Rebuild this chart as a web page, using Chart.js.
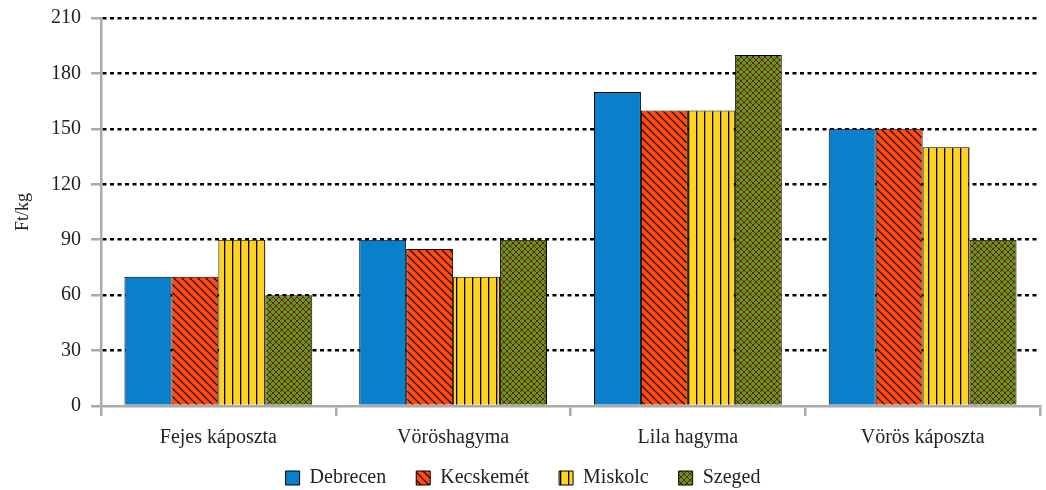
<!DOCTYPE html>
<html>
<head>
<meta charset="utf-8">
<script src="https://cdn.jsdelivr.net/npm/chart.js@4"></script>
<style>
  html, body { margin: 0; padding: 0; background: #fff; }
  #wrap { width: 1046px; height: 490px; }
</style>
</head>
<body>
<div id="wrap"><canvas id="chart" width="1046" height="490"></canvas></div>
<script>
const categories = ['Fejes káposzta', 'Vöröshagyma', 'Lila hagyma', 'Vörös káposzta'];
const cities = ['Debrecen', 'Kecskemét', 'Miskolc', 'Szeged'];
const debrecen = [70, 90, 170, 150];
const kecskemet = [70, 85, 160, 150];
const miskolc = [90, 70, 160, 140];
const szeged = [60, 90, 190, 90];
const yTicks = [0, 30, 60, 90, 120, 150, 180, 210];

// minták a hasábokhoz
function makePattern(size, bg, draw) {
    const c = document.createElement('canvas');
    c.width = size;
    c.height = size;
    const g = c.getContext('2d');
    g.fillStyle = bg;
    g.fillRect(0, 0, size, size);
    draw(g, size);
    return g.createPattern(c, 'repeat');
}

const ctx = document.getElementById('chart').getContext('2d');

const diag = makePattern(8, '#FF4A10', (g, s) => {
    g.strokeStyle = '#000';
    g.lineWidth = 1.2;
    g.beginPath();
    g.moveTo(0, 0); g.lineTo(s, s);
    g.moveTo(-s / 2, s / 2); g.lineTo(s / 2, s * 1.5);
    g.moveTo(s / 2, -s / 2); g.lineTo(s * 1.5, s / 2);
    g.stroke();
});

const vert = makePattern(8, '#FFD320', (g, s) => {
    g.fillStyle = '#000';
    g.fillRect(0, 0, 1.3, s);
});

const cross = makePattern(6, '#5B9B1A', (g, s) => {
    g.strokeStyle = '#7A1410';
    g.lineWidth = 1;
    g.beginPath();
    g.moveTo(0, 0); g.lineTo(s, s);
    g.moveTo(s, 0); g.lineTo(0, s);
    g.moveTo(-s / 2, s / 2); g.lineTo(s / 2, s * 1.5);
    g.moveTo(s / 2, -s / 2); g.lineTo(s * 1.5, s / 2);
    g.moveTo(s / 2, -s / 2); g.lineTo(-s / 2, s / 2);
    g.moveTo(s * 1.5, s / 2); g.lineTo(s / 2, s * 1.5);
    g.stroke();
});

const fills = ['#0A7FCC', diag, vert, cross];
const series = [debrecen, kecskemet, miskolc, szeged];

const serif = "'Liberation Serif', 'DejaVu Serif', serif";

// a jelmagyarázat feljebb tolása (a nagy vízszintes köz miatt magas lenne)
const legendShift = {
    id: 'legendShift',
    afterLayout(chart) {
        const l = chart.legend;
        if (!l) return;
        l.top -= 18;
        l.bottom -= 18;
    }
};

new Chart(ctx, {
    type: 'bar',
    data: {
        labels: categories,
        datasets: cities.map((name, i) => ({
            label: name,
            data: series[i],
            backgroundColor: fills[i],
            borderColor: '#000',
            borderWidth: 1,
            categoryPercentage: 0.8,
            barPercentage: 1
        }))
    },
    options: {
        responsive: false,
        animation: false,
        layout: { padding: { left: 6, right: 6, top: 7, bottom: -26 } },
        plugins: {
            tooltip: { enabled: false },
            legend: {
                position: 'bottom',
                labels: {
                    color: '#222',
                    font: { family: serif, size: 20 },
                    boxWidth: 14,
                    boxHeight: 14,
                    padding: 30
                }
            }
        },
        scales: {
            x: {
                grid: {
                    drawOnChartArea: false,
                    drawTicks: true,
                    tickLength: 10,
                    tickColor: '#aaa',
                    lineWidth: 2.5,
                    offset: true
                },
                border: { color: '#aaa', width: 2.5 },
                ticks: {
                    color: '#222',
                    font: { family: serif, size: 20 },
                    padding: 10
                },
                afterFit: s => { s.height = 50; }
            },
            y: {
                min: 0,
                max: 210,
                afterBuildTicks: s => { s.ticks = yTicks.map(v => ({ value: v })); },
                grid: {
                    color: c => c.tick && c.tick.value === 0 ? 'rgba(0,0,0,0)' : '#000',
                    lineWidth: 2.5,
                    drawTicks: true,
                    tickLength: 10,
                    tickColor: '#aaa',
                    tickWidth: 2.5,
                    tickBorderDash: [1, 0]
                },
                border: { color: '#aaa', width: 2.5, dash: [4, 3.5] },
                ticks: {
                    color: '#222',
                    font: { family: serif, size: 20, lineHeight: 0.8 },
                    padding: 10
                },
                title: {
                    display: true,
                    text: 'Ft/kg',
                    color: '#222',
                    font: { family: serif, size: 18 },
                    padding: { top: 6, bottom: 0 }
                },
                afterFit: s => { s.width = 95; }
            }
        }
    },
    plugins: [legendShift]
});
</script>
</body>
</html>
